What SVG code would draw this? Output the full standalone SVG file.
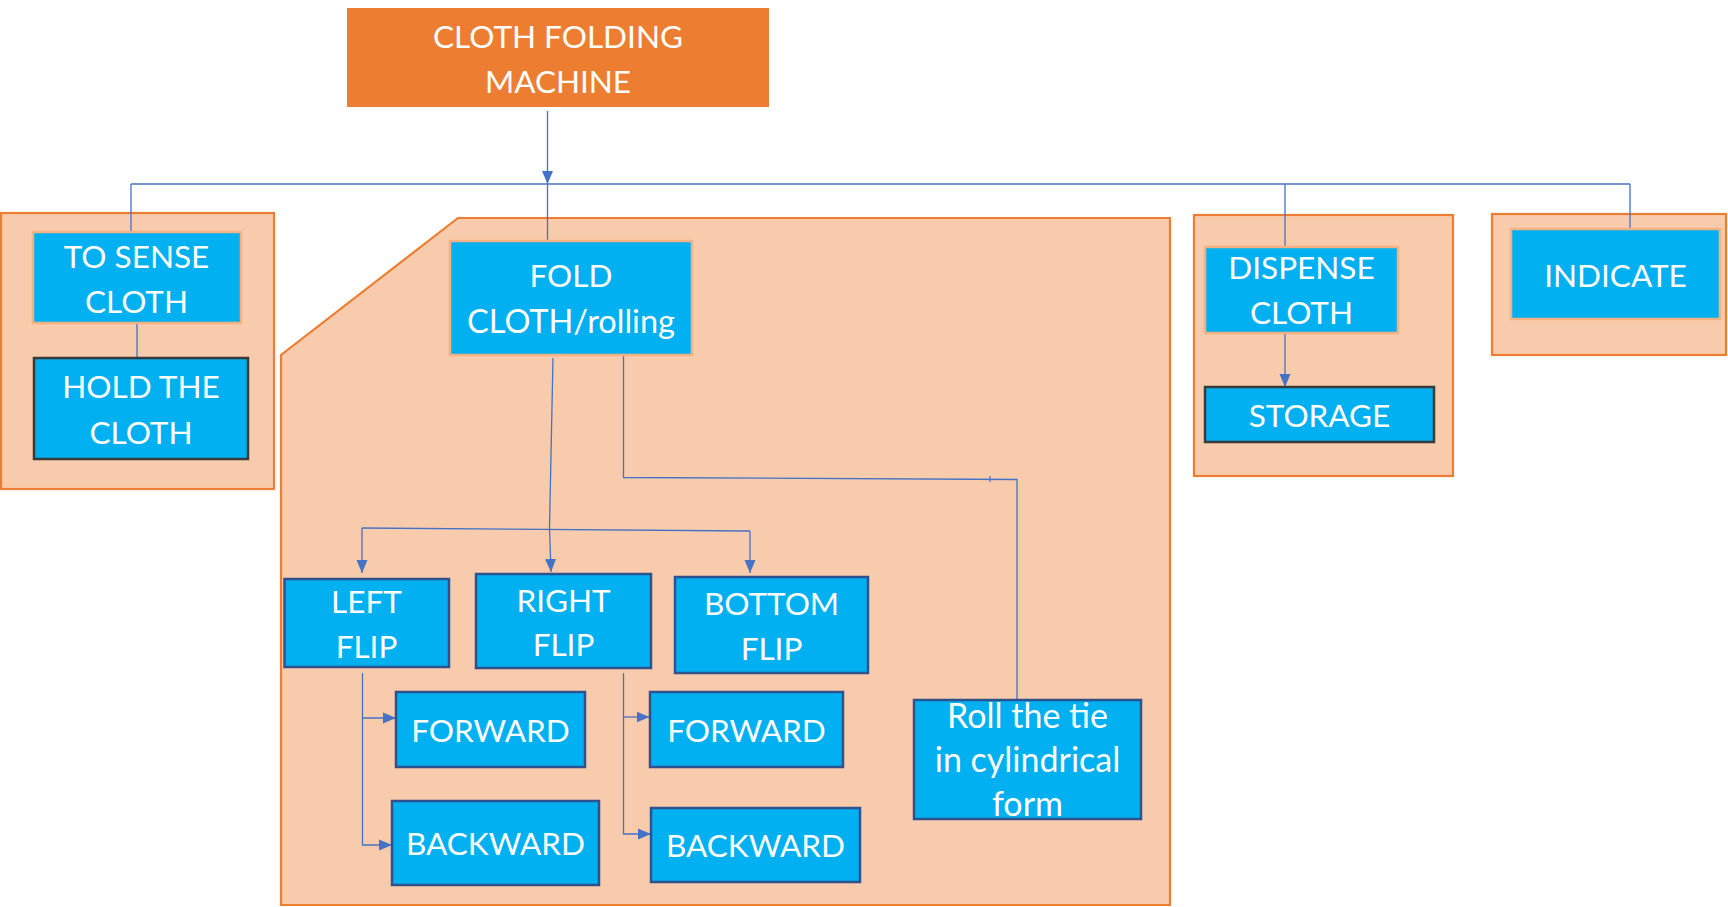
<svg xmlns="http://www.w3.org/2000/svg" width="1728" height="907" viewBox="0 0 1728 907">
<defs>
<style>
.grp{fill:#F8CBAD;stroke:#ED7D31;stroke-width:2.2}
.bx{fill:#00B0F0}
.lo{stroke:#F4B183;stroke-width:2.5}
.db{stroke:#2F528F;stroke-width:2.5}
.dk{stroke:#3A3A3A;stroke-width:2.5}
.t{font-family:Lato,"Open Sans",sans-serif;font-size:31.5px;fill:#FFFFFF;text-anchor:middle}
.lc{font-size:34px}
.c{fill:none;stroke:#4472C4;stroke-width:1.3}
</style>
<marker id="ah" markerUnits="userSpaceOnUse" markerWidth="14" markerHeight="14" viewBox="0 0 14 14" refX="13" refY="7" orient="auto">
<path d="M0,1.5 L13,7 L0,12.5 Z" fill="#4472C4"/>
</marker>
</defs>
<rect width="1728" height="907" fill="#FFFFFF"/>

<g id="groups">
<rect class="grp" x="1" y="213" width="273" height="276"/>
<polygon class="grp" points="458,218 1170,218 1170,905 281,905 281,355"/>
<rect class="grp" x="1194" y="215" width="259" height="261"/>
<rect class="grp" x="1492" y="214" width="234" height="141"/>
</g>

<g id="connectors">
<line class="c" x1="547.5" y1="111" x2="547.5" y2="184" marker-end="url(#ah)"/>
<line class="c" x1="131" y1="184" x2="1630" y2="184"/>
<line class="c" x1="131" y1="184" x2="131" y2="231"/>
<line class="c" x1="547.5" y1="184" x2="547.5" y2="241"/>
<line class="c" x1="1285" y1="184" x2="1285" y2="247"/>
<line class="c" x1="1630" y1="184" x2="1630" y2="229"/>
<line class="c" x1="137" y1="323" x2="137" y2="358"/>
<line class="c" x1="1285" y1="333" x2="1285" y2="387" marker-end="url(#ah)"/>
<path class="c" d="M553,358 L549.5,528 L551,572" marker-end="url(#ah)"/>
<line class="c" x1="362" y1="528" x2="750" y2="531"/>
<line class="c" x1="362" y1="528" x2="362" y2="573" marker-end="url(#ah)"/>
<line class="c" x1="750" y1="531" x2="750" y2="573" marker-end="url(#ah)"/>
<path class="c" d="M623.5,355 L623.5,477.5 L1017,479.5 L1017,700"/>
<line class="c" x1="990" y1="476" x2="990" y2="482"/>
<path class="c" d="M362.5,673 L362.5,845 L392,845" marker-end="url(#ah)"/>
<line class="c" x1="362.5" y1="718" x2="396" y2="718" marker-end="url(#ah)"/>
<path class="c" d="M623.5,673 L623.5,834 L651,834" marker-end="url(#ah)"/>
<line class="c" x1="623.5" y1="717" x2="649.5" y2="717" marker-end="url(#ah)"/>
</g>

<g id="n-machine">
<rect x="347" y="8" width="422" height="99" fill="#ED7D31"/>
<text class="t" x="558" y="48">CLOTH FOLDING</text>
<text class="t" x="558" y="93">MACHINE</text>
</g>

<g id="n-sense">
<rect class="bx lo" x="33" y="232" width="208" height="91"/>
<text class="t" x="136.5" y="268">TO SENSE</text>
<text class="t" x="136.5" y="313">CLOTH</text>
</g>

<g id="n-hold">
<rect class="bx dk" x="34" y="358" width="214" height="101"/>
<text class="t" x="141" y="398">HOLD THE</text>
<text class="t" x="141" y="444">CLOTH</text>
</g>

<g id="n-fold">
<rect class="bx lo" x="450" y="241" width="242" height="114"/>
<text class="t" x="571" y="287">FOLD</text>
<text class="t" x="571" y="333" style="font-size:32.5px">CLOTH/rolling</text>
</g>

<g id="n-dispense">
<rect class="bx lo" x="1205" y="247" width="193" height="86"/>
<text class="t" x="1301.5" y="279">DISPENSE</text>
<text class="t" x="1301.5" y="324">CLOTH</text>
</g>

<g id="n-storage">
<rect class="bx dk" x="1205" y="387" width="229" height="55"/>
<text class="t" x="1319.5" y="427">STORAGE</text>
</g>

<g id="n-indicate">
<rect class="bx lo" x="1511" y="229" width="209" height="90"/>
<text class="t" x="1615.5" y="287">INDICATE</text>
</g>

<g id="n-left">
<rect class="bx db" x="284.5" y="579" width="164.5" height="88"/>
<text class="t" x="366.5" y="613">LEFT</text>
<text class="t" x="366.5" y="658">FLIP</text>
</g>

<g id="n-right">
<rect class="bx db" x="476" y="574" width="175" height="94"/>
<text class="t" x="563.5" y="612">RIGHT</text>
<text class="t" x="563.5" y="656">FLIP</text>
</g>

<g id="n-bottom">
<rect class="bx db" x="675" y="577" width="193" height="96"/>
<text class="t" x="771.5" y="615">BOTTOM</text>
<text class="t" x="771.5" y="660">FLIP</text>
</g>

<g id="n-fwd-left">
<rect class="bx db" x="396" y="692" width="189" height="75"/>
<text class="t" x="490.5" y="741.5">FORWARD</text>
</g>

<g id="n-bwd-left">
<rect class="bx db" x="392" y="801" width="207" height="84"/>
<text class="t" x="495.5" y="854.5">BACKWARD</text>
</g>

<g id="n-fwd-right">
<rect class="bx db" x="650" y="692" width="193" height="75"/>
<text class="t" x="746.5" y="741.5">FORWARD</text>
</g>

<g id="n-bwd-right">
<rect class="bx db" x="651" y="808" width="209" height="74"/>
<text class="t" x="755.5" y="857">BACKWARD</text>
</g>

<g id="n-roll">
<rect class="bx db" x="914" y="700" width="227" height="119"/>
<text class="t lc" x="1027.5" y="727.5">Roll the tie</text>
<text class="t lc" x="1027.5" y="771.5">in cylindrical</text>
<text class="t lc" x="1027.5" y="816">form</text>
</g>
</svg>
